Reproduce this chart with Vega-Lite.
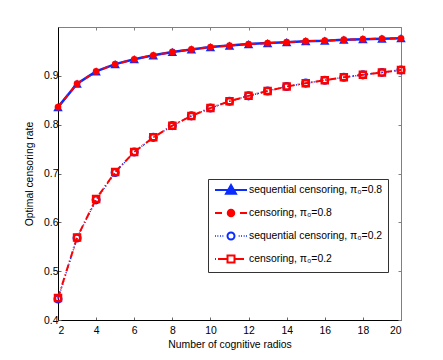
{
  "$schema": "https://vega.github.io/schema/vega-lite/v6.json",
  "autosize": "none",
  "padding": {"left": 58, "top": 27, "right": 42, "bottom": 40},
  "width": 343,
  "height": 293,
  "background": "white",
  "config": {
    "view": {"stroke": null},
    "axis": {
      "grid": false,
      "domain": true,
      "domainColor": "black",
      "domainWidth": 1,
      "tickColor": "#666666",
      "tickSize": -3,
      "labelFont": "Liberation Sans",
      "labelFontSize": 10.4,
      "labelColor": "black",
      "titleFont": "Liberation Sans",
      "titleFontSize": 10.4,
      "titleFontWeight": "normal",
      "titleColor": "black"
    },
    "legend": {
      "labelFont": "Liberation Sans",
      "labelFontSize": 10.4,
      "labelColor": "black"
    }
  },
  "datasets": {
    "rates": [
      {"n": 2, "series": "A", "rate": 0.836}, {"n": 3, "series": "A", "rate": 0.884}, {"n": 4, "series": "A", "rate": 0.909},
      {"n": 5, "series": "A", "rate": 0.924}, {"n": 6, "series": "A", "rate": 0.934}, {"n": 7, "series": "A", "rate": 0.942},
      {"n": 8, "series": "A", "rate": 0.949}, {"n": 9, "series": "A", "rate": 0.954}, {"n": 10, "series": "A", "rate": 0.959},
      {"n": 11, "series": "A", "rate": 0.962}, {"n": 12, "series": "A", "rate": 0.965}, {"n": 13, "series": "A", "rate": 0.967},
      {"n": 14, "series": "A", "rate": 0.969}, {"n": 15, "series": "A", "rate": 0.971}, {"n": 16, "series": "A", "rate": 0.972},
      {"n": 17, "series": "A", "rate": 0.974}, {"n": 18, "series": "A", "rate": 0.975}, {"n": 19, "series": "A", "rate": 0.976},
      {"n": 20, "series": "A", "rate": 0.977},
      {"n": 2, "series": "B", "rate": 0.836}, {"n": 3, "series": "B", "rate": 0.884}, {"n": 4, "series": "B", "rate": 0.909},
      {"n": 5, "series": "B", "rate": 0.924}, {"n": 6, "series": "B", "rate": 0.934}, {"n": 7, "series": "B", "rate": 0.942},
      {"n": 8, "series": "B", "rate": 0.949}, {"n": 9, "series": "B", "rate": 0.954}, {"n": 10, "series": "B", "rate": 0.959},
      {"n": 11, "series": "B", "rate": 0.962}, {"n": 12, "series": "B", "rate": 0.965}, {"n": 13, "series": "B", "rate": 0.967},
      {"n": 14, "series": "B", "rate": 0.969}, {"n": 15, "series": "B", "rate": 0.971}, {"n": 16, "series": "B", "rate": 0.972},
      {"n": 17, "series": "B", "rate": 0.974}, {"n": 18, "series": "B", "rate": 0.975}, {"n": 19, "series": "B", "rate": 0.976},
      {"n": 20, "series": "B", "rate": 0.977},
      {"n": 2, "series": "C", "rate": 0.443}, {"n": 3, "series": "C", "rate": 0.568}, {"n": 4, "series": "C", "rate": 0.646},
      {"n": 5, "series": "C", "rate": 0.702}, {"n": 6, "series": "C", "rate": 0.744}, {"n": 7, "series": "C", "rate": 0.774},
      {"n": 8, "series": "C", "rate": 0.798}, {"n": 9, "series": "C", "rate": 0.818}, {"n": 10, "series": "C", "rate": 0.834},
      {"n": 11, "series": "C", "rate": 0.848}, {"n": 12, "series": "C", "rate": 0.859}, {"n": 13, "series": "C", "rate": 0.869},
      {"n": 14, "series": "C", "rate": 0.878}, {"n": 15, "series": "C", "rate": 0.885}, {"n": 16, "series": "C", "rate": 0.891},
      {"n": 17, "series": "C", "rate": 0.897}, {"n": 18, "series": "C", "rate": 0.902}, {"n": 19, "series": "C", "rate": 0.907},
      {"n": 20, "series": "C", "rate": 0.912},
      {"n": 2, "series": "D", "rate": 0.445}, {"n": 3, "series": "D", "rate": 0.569}, {"n": 4, "series": "D", "rate": 0.648},
      {"n": 5, "series": "D", "rate": 0.703}, {"n": 6, "series": "D", "rate": 0.744}, {"n": 7, "series": "D", "rate": 0.774},
      {"n": 8, "series": "D", "rate": 0.798}, {"n": 9, "series": "D", "rate": 0.818}, {"n": 10, "series": "D", "rate": 0.834},
      {"n": 11, "series": "D", "rate": 0.848}, {"n": 12, "series": "D", "rate": 0.859}, {"n": 13, "series": "D", "rate": 0.869},
      {"n": 14, "series": "D", "rate": 0.878}, {"n": 15, "series": "D", "rate": 0.885}, {"n": 16, "series": "D", "rate": 0.891},
      {"n": 17, "series": "D", "rate": 0.897}, {"n": 18, "series": "D", "rate": 0.902}, {"n": 19, "series": "D", "rate": 0.907},
      {"n": 20, "series": "D", "rate": 0.912}
    ]
  },
  "data": {"name": "rates"},
  "layer": [
    {
      "encoding": {
        "x": {
          "field": "n", "type": "quantitative",
          "scale": {"domain": [2, 20], "nice": false, "zero": false},
          "axis": {"values": [2, 4, 6, 8, 10, 12, 14, 16, 18, 20], "title": "Number of cognitive radios", "labelPadding": 8, "titlePadding": 4}
        },
        "y": {
          "field": "rate", "type": "quantitative",
          "scale": {"domain": [0.4, 1.0], "nice": false, "zero": false},
          "axis": {"values": [0.4, 0.5, 0.6, 0.7, 0.8, 0.9], "format": ".1f", "title": "Optimal censoring rate", "labelPadding": 3, "titlePadding": 9}
        }
      },
      "layer": [
        {"transform": [{"filter": "datum.series === 'A'"}], "mark": {"type": "line", "color": "#0a2cff", "strokeWidth": 2.5}},
        {"transform": [{"filter": "datum.series === 'A'"}], "mark": {"type": "point", "shape": "triangle-up", "filled": true, "color": "#0a2cff", "size": 90, "opacity": 1}},
        {"transform": [{"filter": "datum.series === 'B'"}], "mark": {"type": "line", "color": "#ff0000", "strokeWidth": 2, "strokeDash": [6, 4]}},
        {"transform": [{"filter": "datum.series === 'B'"}], "mark": {"type": "point", "shape": "circle", "filled": true, "color": "#ff0000", "size": 45, "opacity": 1}},
        {"transform": [{"filter": "datum.series === 'C'"}], "mark": {"type": "line", "color": "#0a2cff", "strokeWidth": 1.5, "strokeDash": [1, 2]}},
        {"transform": [{"filter": "datum.series === 'C'"}], "mark": {"type": "point", "shape": "circle", "filled": false, "color": "#0a2cff", "strokeWidth": 2, "size": 50, "opacity": 1}},
        {"transform": [{"filter": "datum.series === 'D'"}], "mark": {"type": "line", "color": "#ff0000", "strokeWidth": 2, "strokeDash": [7, 3, 1, 3]}},
        {"transform": [{"filter": "datum.series === 'D'"}], "mark": {"type": "point", "shape": "square", "filled": false, "color": "#ff0000", "strokeWidth": 2.5, "size": 36, "opacity": 1}}
      ]
    },
    {
      "transform": [{"filter": "datum.n > 100"}],
      "mark": {"type": "point", "opacity": 1},
      "encoding": {
        "x": {"field": "n", "type": "quantitative", "axis": {"orient": "top", "labels": false, "title": null, "domainColor": "#808080", "tickColor": "#808080", "values": [2, 4, 6, 8, 10, 12, 14, 16, 18, 20]}},
        "y": {"field": "rate", "type": "quantitative", "axis": {"orient": "right", "labels": false, "title": null, "domainColor": "#808080", "tickColor": "#808080", "values": [0.4, 0.5, 0.6, 0.7, 0.8, 0.9, 1.0]}},
        "shape": {
          "field": "series", "type": "nominal",
          "scale": {"domain": ["A", "B", "C", "D"], "range": [
            "M-3.2,0L3.2,0M0,-1L1,0.75L-1,0.75Z",
            "M-3.2,0L-1.8,0M1.8,0L3.2,0M0.65,0A0.65,0.65 0 1,1 -0.65,0A0.65,0.65 0 1,1 0.65,0Z",
            "M-3.2,0L-3.05,0M-2.7,0L-2.55,0M-2.2,0L-2.05,0M-1.7,0L-1.55,0M1.55,0L1.7,0M2.05,0L2.2,0M2.55,0L2.7,0M3.05,0L3.2,0M0.7,0A0.7,0.7 0 1,1 -0.7,0A0.7,0.7 0 1,1 0.7,0Z",
            "M-3.2,0L-3.0,0M-2.6,0L-0.8,0M0.8,0L2.6,0M-0.7,-0.7L0.7,-0.7L0.7,0.7L-0.7,0.7Z"
          ]},
          "legend": {
            "orient": "none", "legendX": 150, "legendY": 152, "title": null,
            "labelExpr": "datum.value === 'A' ? 'sequential censoring, π₀=0.8' : datum.value === 'B' ? 'censoring, π₀=0.8' : datum.value === 'C' ? 'sequential censoring, π₀=0.2' : 'censoring, π₀=0.2'",
            "strokeColor": "#333333", "fillColor": "white", "padding": 5,
            "symbolSize": 100, "symbolStrokeWidth": 2, "symbolOffset": 12, "labelOffset": 12, "rowPadding": 7
          }
        },
        "stroke": {
          "field": "series", "type": "nominal",
          "scale": {"domain": ["A", "B", "C", "D"], "range": ["#0a2cff", "#ff0000", "#0a2cff", "#ff0000"]}
        },
        "fill": {
          "field": "series", "type": "nominal",
          "scale": {"domain": ["A", "B", "C", "D"], "range": ["#0a2cff", "#ff0000", "white", "white"]}
        }
      }
    }
  ],
  "resolve": {"axis": {"x": "independent", "y": "independent"}}
}
